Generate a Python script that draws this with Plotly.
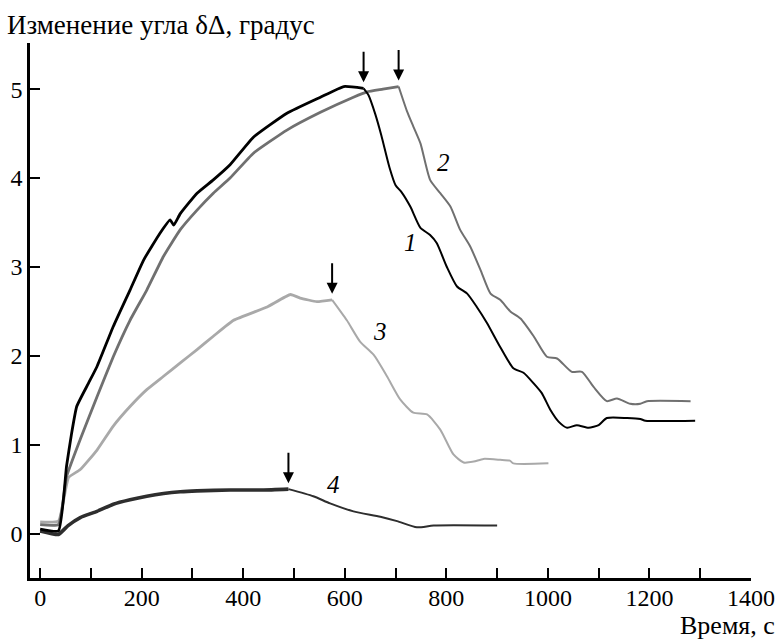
import plotly.graph_objects as go

# ---- data ----
t1 = [0, 36, 52, 62, 72, 95, 112, 144, 177, 204, 236, 256, 263, 276, 309, 341, 374, 420, 486, 552, 598, 637,
      647, 660, 672, 688, 700, 712, 729, 749, 768, 781, 801, 821, 841, 860, 880, 906, 932, 952, 972, 988, 1005,
      1021, 1038, 1057, 1080, 1100, 1116, 1156, 1182, 1192, 1290]
y1 = [0.05, 0.03, 0.76, 1.13, 1.43, 1.69, 1.88, 2.33, 2.74, 3.08, 3.38, 3.53, 3.47, 3.60, 3.83, 3.98, 4.15, 4.46, 4.73, 4.91, 5.03, 5.01,
      4.93, 4.72, 4.48, 4.12, 3.92, 3.84, 3.68, 3.44, 3.36, 3.27, 3.00, 2.78, 2.70, 2.55, 2.37, 2.10, 1.86, 1.81, 1.69, 1.58, 1.39,
      1.26, 1.19, 1.22, 1.19, 1.22, 1.30, 1.30, 1.29, 1.27, 1.27]

t2 = [0, 36, 52, 79, 112, 144, 177, 210, 243, 276, 309, 341, 374, 420, 486, 552, 617, 644, 675, 706,
      722, 735, 749, 768, 788, 808, 827, 847, 867, 887, 906, 926, 946, 972, 998, 1018, 1047, 1067, 1090,
      1116, 1136, 1162, 1182, 1195, 1281]
y2 = [0.1, 0.1, 0.64, 1.06, 1.54, 1.99, 2.40, 2.74, 3.12, 3.42, 3.64, 3.83, 4.00, 4.28, 4.54, 4.74, 4.91, 4.97, 5.00, 5.03,
      4.76, 4.58, 4.39, 3.98, 3.83, 3.68, 3.42, 3.23, 2.97, 2.70, 2.63, 2.50, 2.42, 2.22, 1.99, 1.97, 1.82, 1.82, 1.65,
      1.49, 1.52, 1.46, 1.46, 1.49, 1.49]

t3 = [0, 36, 56, 79, 112, 144, 177, 210, 243, 276, 309, 341, 381, 447, 493, 512, 545, 575,
      604, 630, 657, 683, 709, 735, 762, 788, 814, 834, 854, 873, 906, 925, 932, 1001]
y3 = [0.13, 0.14, 0.63, 0.72, 0.94, 1.21, 1.43, 1.62, 1.77, 1.92, 2.07, 2.22, 2.40, 2.55, 2.69, 2.65, 2.61, 2.63,
      2.40, 2.16, 2.01, 1.77, 1.51, 1.36, 1.34, 1.17, 0.89, 0.80, 0.81, 0.84, 0.83, 0.82, 0.79, 0.79]

t4 = [0, 36, 55, 79, 112, 144, 177, 210, 243, 276, 309, 374, 440, 489,
      538, 571, 617, 670, 703, 742, 775, 900]
y4 = [0.03, -0.01, 0.09, 0.18, 0.25, 0.33, 0.38, 0.42, 0.45, 0.47, 0.48, 0.49, 0.49, 0.50,
      0.42, 0.34, 0.25, 0.19, 0.14, 0.07, 0.09, 0.09]

# time at which each arrow marks the switch (one per curve)
switch_t = [637, 706, 575, 489]

curve_names = ["1", "2", "3", "4"]
label_t = [729, 795, 670, 578]
label_y = [3.28, 4.18, 2.27, 0.55]

x_tickvals = list(range(0, 1401, 100))
x_ticktext = [str(v) if v % 200 == 0 else "" for v in x_tickvals]
y_tickvals = [0, 1, 2, 3, 4, 5]

colors = ["#000000", "#707070", "#a9a9a9", "#2e2e2e"]
rise_width = [2.8, 2.8, 2.8, 3.6]
fall_width = [2.0, 2.0, 2.0, 2.0]

FONT = "Liberation Serif, Times New Roman, DejaVu Serif, serif"

fig = go.Figure()
series = [(t1, y1), (t2, y2), (t3, y3), (t4, y4)]
order = [2, 3, 1, 0]
for i in order:
    t, y = series[i]
    k = t.index(switch_t[i])
    fig.add_trace(go.Scatter(x=t[:k + 1], y=y[:k + 1], mode="lines",
                             line=dict(color=colors[i], width=rise_width[i],
                                       shape="spline", smoothing=0.4),
                             showlegend=False, hoverinfo="skip"))
    fig.add_trace(go.Scatter(x=t[k:], y=y[k:], mode="lines",
                             line=dict(color=colors[i], width=fall_width[i],
                                       shape="spline", smoothing=0.6),
                             showlegend=False, hoverinfo="skip"))

# arrows
for i, (t, y) in enumerate(series):
    k = t.index(switch_t[i])
    fig.add_annotation(x=t[k], y=y[k], ax=0, ay=-38, xref="x", yref="y",
                       showarrow=True, arrowhead=2, arrowsize=1.1, arrowwidth=2,
                       arrowcolor="black", standoff=6, text="")

# curve labels
for name, lt, ly in zip(curve_names, label_t, label_y):
    fig.add_annotation(x=lt, y=ly, xref="x", yref="y", text="<i>%s</i>" % name,
                       showarrow=False, font=dict(family=FONT, size=25, color="black"))

fig.add_annotation(x=-0.0347, y=1.034, xref="paper", yref="paper", xanchor="left", yanchor="middle",
                   text="Изменение угла δΔ, градус", showarrow=False,
                   font=dict(family=FONT, size=27, color="black"))
fig.add_annotation(x=1.0365, y=-0.088, xref="paper", yref="paper", xanchor="right", yanchor="middle",
                   text="Время, с", showarrow=False,
                   font=dict(family=FONT, size=26, color="black"))

fig.update_xaxes(range=[-20, 1400], tickvals=x_tickvals, ticktext=x_ticktext,
                 ticks="inside", ticklen=10, tickwidth=2, tickcolor="black",
                 ticklabelstandoff=-4,
                 showline=True, linewidth=2.5, linecolor="black",
                 showgrid=False, zeroline=False, automargin=False,
                 tickfont=dict(family=FONT, size=24, color="black"))
fig.update_yaxes(range=[-0.5, 5.52], tickvals=y_tickvals,
                 ticks="inside", ticklen=10, tickwidth=2, tickcolor="black",
                 showline=True, linewidth=2.5, linecolor="black",
                 showgrid=False, zeroline=False, automargin=False,
                 tickfont=dict(family=FONT, size=24, color="black"))

fig.update_layout(width=780, height=639, margin=dict(l=30, r=29, t=43, b=61),
                  paper_bgcolor="white", plot_bgcolor="white",
                  font=dict(family=FONT, size=24, color="black"))

fig.write_html("out.html", config={"displayModeBar": False},
               post_script="document.body.style.margin='0';document.body.style.overflow='hidden';")
